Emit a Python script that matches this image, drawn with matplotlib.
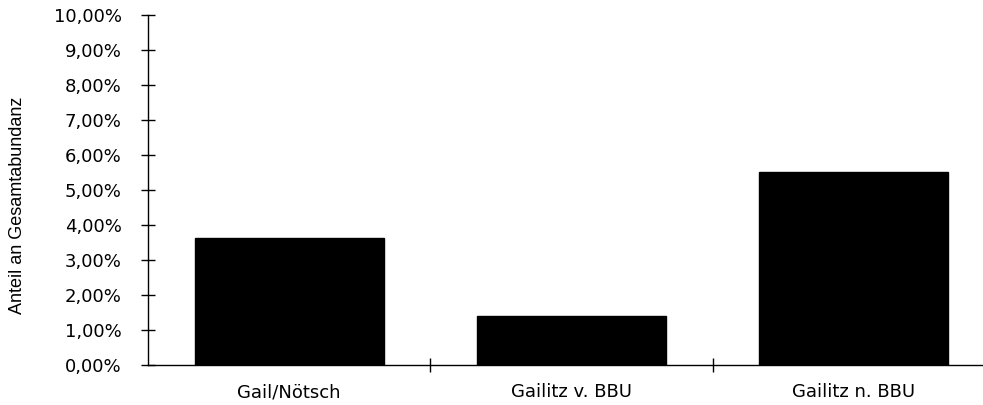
import matplotlib
matplotlib.use("Agg")
import matplotlib.pyplot as plt
from matplotlib.ticker import FixedLocator, FuncFormatter

categories = ["Gail/Nötsch", "Gailitz v. BBU", "Gailitz n. BBU"]
values = [3.64, 1.40, 5.51]  # percent
yticks = [0, 1, 2, 3, 4, 5, 6, 7, 8, 9, 10]

plt.rcParams['font.family'] = ['DejaVu Sans']

fig = plt.figure(figsize=(9.83, 4.05), dpi=100)
ax = fig.add_axes([148/983, 1-365/405, (995-148)/983, (365-15)/405])

x = list(range(len(categories)))
ax.bar(x, values, width=0.67, color='black', edgecolor='black')

ax.set_xlim(-0.5, len(categories) - 0.5)
ax.set_ylim(0, 10)

for s in ['top', 'right']:
    ax.spines[s].set_visible(False)
ax.spines['left'].set_linewidth(1.0)
ax.spines['bottom'].set_linewidth(1.0)

ax.yaxis.set_major_locator(FixedLocator(yticks))
ax.yaxis.set_major_formatter(FuncFormatter(lambda v, p: f"{v:.2f}".replace('.', ',') + "%"))
ax.tick_params(axis='y', direction='inout', length=10, width=1, labelsize=13, pad=14)

ax.set_xticks(x)
ax.set_xticklabels(categories)
ax.tick_params(axis='x', which='major', length=0, labelsize=13, pad=13)
ax.set_xticks([i + 0.5 for i in x[:-1]], minor=True)
ax.tick_params(axis='x', which='minor', direction='inout', length=10, width=1)

ax.set_ylabel("Anteil an Gesamtabundanz", fontsize=13, family=['Liberation Sans'])
ax.yaxis.set_label_coords(-(148-26)/847, 0.457)

fig.savefig("out.png", dpi=100, facecolor='white')
